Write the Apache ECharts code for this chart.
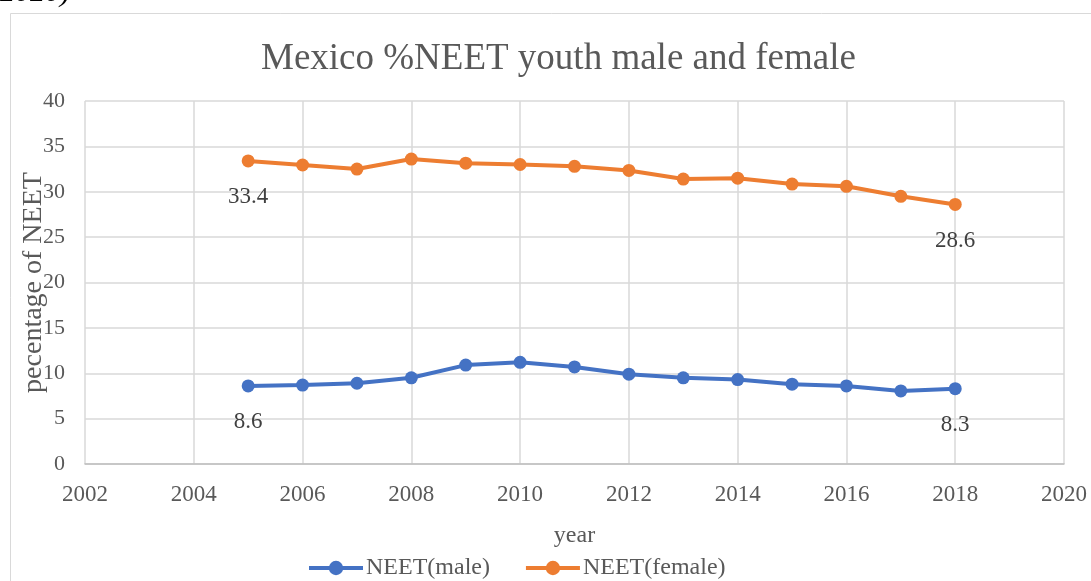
<!DOCTYPE html>
<html>
<head>
<meta charset="utf-8">
<title>Mexico NEET</title>
<script src="https://cdn.jsdelivr.net/npm/echarts@6/dist/echarts.min.js"></script>
<style>
html, body { margin: 0; padding: 0; background: #fff; }
#main { width: 1091px; height: 581px; }
</style>
</head>
<body>
<div id="main"></div>
<script type="text/javascript">
// data
var years = [2005, 2006, 2007, 2008, 2009, 2010, 2011, 2012, 2013, 2014, 2015, 2016, 2017, 2018];
var maleValues = [8.6, 8.7, 8.9, 9.5, 10.9, 11.2, 10.7, 9.9, 9.5, 9.3, 8.8, 8.6, 8.05, 8.3];
var femaleValues = [33.4, 32.95, 32.5, 33.6, 33.15, 33.0, 32.8, 32.35, 31.4, 31.5, 30.85, 30.6, 29.5, 28.6];
var seriesNames = ['NEET(male)', 'NEET(female)'];

function pairs(vals) {
    return years.map(function (y, i) { return [y, vals[i]]; });
}

var fontFam = '"Liberation Serif", "DejaVu Serif", serif';

// only first and last point carry a label
function endLabel(params) {
    var n = years.length - 1;
    if (params.dataIndex === 0 || params.dataIndex === n) return params.value[1];
    return '';
}

var myChart = echarts.init(document.getElementById('main'));
var option = {
    backgroundColor: '#fff',
    animation: false,
    color: ['#4472C4', '#ED7D31'],
    title: {
        text: 'Mexico %NEET youth male and female',
        left: 256,
        top: 36,
        textStyle: { fontFamily: fontFam, fontSize: 37, fontWeight: 'normal', color: '#595959' }
    },
    graphic: [
        {
            type: 'rect',
            shape: { x: 10.5, y: 13.5, width: 1100, height: 600 },
            style: { fill: 'none', stroke: '#d9d9d9', lineWidth: 1 }
        },
        {
            type: 'text',
            left: 0,
            top: -22,
            style: { text: '2020)', font: 'italic 30px "Liberation Serif", serif', fill: '#000' }
        }
    ],
    legend: {
        top: 551,
        left: 302,
        itemWidth: 54,
        itemHeight: 18,
        itemGap: 34,
        lineStyle: { width: 4 },
        textStyle: { fontFamily: fontFam, fontSize: 24, color: '#595959', padding: [0, 0, 0, -2] },
        data: seriesNames
    },
    grid: { left: 85, right: 27, top: 101, bottom: 117, outerBoundsMode: 'none' },
    xAxis: {
        type: 'value',
        min: 2002,
        max: 2020,
        interval: 2,
        name: 'year',
        nameLocation: 'middle',
        nameGap: 60,
        nameTextStyle: { fontFamily: fontFam, fontSize: 24, color: '#595959' },
        axisLine: { lineStyle: { color: '#bfbfbf', width: 1.5 } },
        axisTick: { show: false },
        axisLabel: {
            fontFamily: fontFam, fontSize: 23, color: '#595959', margin: 19,
            formatter: function (v) { return String(v); }
        },
        splitLine: { show: true, lineStyle: { color: '#d9d9d9', width: 1.5 } }
    },
    yAxis: {
        type: 'value',
        min: 0,
        max: 40,
        interval: 5,
        name: 'pecentage of NEET',
        nameLocation: 'middle',
        nameGap: 37,
        nameMoveOverlap: false,
        nameTextStyle: { fontFamily: fontFam, fontSize: 28, color: '#595959' },
        axisLine: { show: false },
        axisTick: { show: false },
        axisLabel: { fontFamily: fontFam, fontSize: 22, color: '#595959', margin: 20 },
        splitLine: { show: true, lineStyle: { color: '#d9d9d9', width: 1.5 } }
    },
    series: [
        {
            name: seriesNames[0],
            type: 'line',
            data: pairs(maleValues),
            symbol: 'circle',
            symbolSize: 13,
            lineStyle: { width: 4, color: '#4472C4' },
            itemStyle: { color: '#4472C4' },
            label: {
                show: true,
                position: 'bottom',
                distance: 18,
                formatter: endLabel,
                fontFamily: fontFam,
                fontSize: 23,
                color: '#404040'
            }
        },
        {
            name: seriesNames[1],
            type: 'line',
            data: pairs(femaleValues),
            symbol: 'circle',
            symbolSize: 13,
            lineStyle: { width: 4, color: '#ED7D31' },
            itemStyle: { color: '#ED7D31' },
            label: {
                show: true,
                position: 'bottom',
                distance: 18,
                formatter: endLabel,
                fontFamily: fontFam,
                fontSize: 23,
                color: '#404040'
            }
        }
    ]
};
myChart.setOption(option);
</script>
</body>
</html>
